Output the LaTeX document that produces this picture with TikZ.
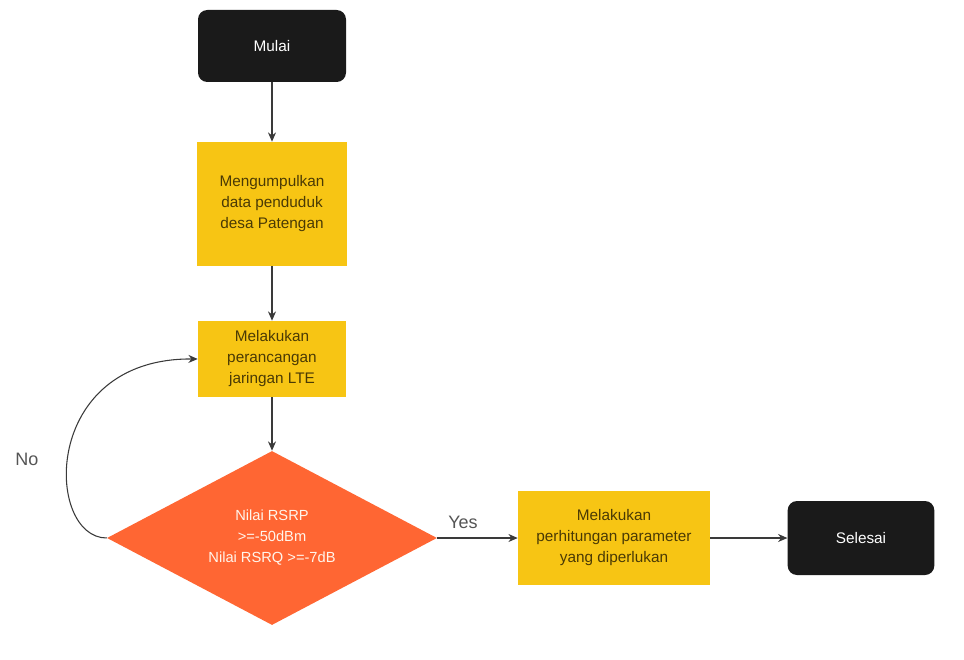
\documentclass[tikz,border=0pt]{standalone}
\usepackage{fontspec}
\setmainfont{Liberation Sans}
\usetikzlibrary{shapes.geometric,arrows.meta}
\definecolor{boxyellow}{HTML}{F7C514}
\definecolor{boxtext}{HTML}{4A3A05}
\definecolor{decorange}{HTML}{FF6633}
\definecolor{termblack}{HTML}{1A1A1A}
\definecolor{linegrey}{HTML}{3A3A3A}
\definecolor{labelgrey}{HTML}{555555}
\tikzset{
  procbox/.style={fill=boxyellow, draw=none, text=boxtext, align=center,
    font=\fontsize{11.5}{15.75}\selectfont, inner sep=0pt},
  termbox/.style={fill=termblack, draw=none, text=white, rounded corners=7pt,
    align=center, font=\fontsize{11.5}{15.75}\selectfont, inner sep=0pt},
  decbox/.style={shape=diamond, fill=decorange, draw=none, text=white!92!orange,
    align=center, font=\fontsize{11}{15.75}\selectfont, inner sep=0pt, aspect=1.9},
  flow/.style={draw=linegrey, line width=0.8pt, -{Stealth[length=7pt,width=6pt]}},
  edgelabel/.style={text=labelgrey, font=\fontsize{13.5}{16}\selectfont}
}
\begin{document}
\begin{tikzpicture}[x=0.75pt,y=-0.75pt]
\useasboundingbox (0,0) rectangle (964,660);
\node[termbox, minimum width=111pt, minimum height=54pt] (mulai) at (272,46) {Mulai};
\node[procbox, minimum width=112pt, minimum height=93pt] (kumpul) at (272,204)
  {Mengumpulkan\\data penduduk\\desa Patengan};
\node[procbox, minimum width=111pt, minimum height=57pt] (rancang) at (272,359)
  {Melakukan\\perancangan\\jaringan LTE};
\node[decbox, minimum width=247.5pt, minimum height=130.5pt] (cek) at (272,538)
  {Nilai RSRP\\>=-50dBm\\Nilai RSRQ >=-7dB};
\node[procbox, minimum width=144pt, minimum height=70.5pt] (hitung) at (614,538)
  {Melakukan\\perhitungan parameter\\yang diperlukan};
\node[termbox, minimum width=110pt, minimum height=55.5pt] (selesai) at (861,538) {Selesai};

\draw[flow] (mulai) -- (kumpul);
\draw[flow] (kumpul) -- (rancang);
\draw[flow] (rancang) -- (cek);
\draw[flow] (cek.east) -- node[edgelabel, above, pos=0.32, yshift=3pt] (yes) {Yes} (hitung.west);
\draw[flow] (hitung) -- (selesai);
\draw[flow] (cek.west) .. controls (45,538) and (40,358) .. (rancang.west);
\node[edgelabel] (no) at (27,459) {No};
\end{tikzpicture}
\end{document}
